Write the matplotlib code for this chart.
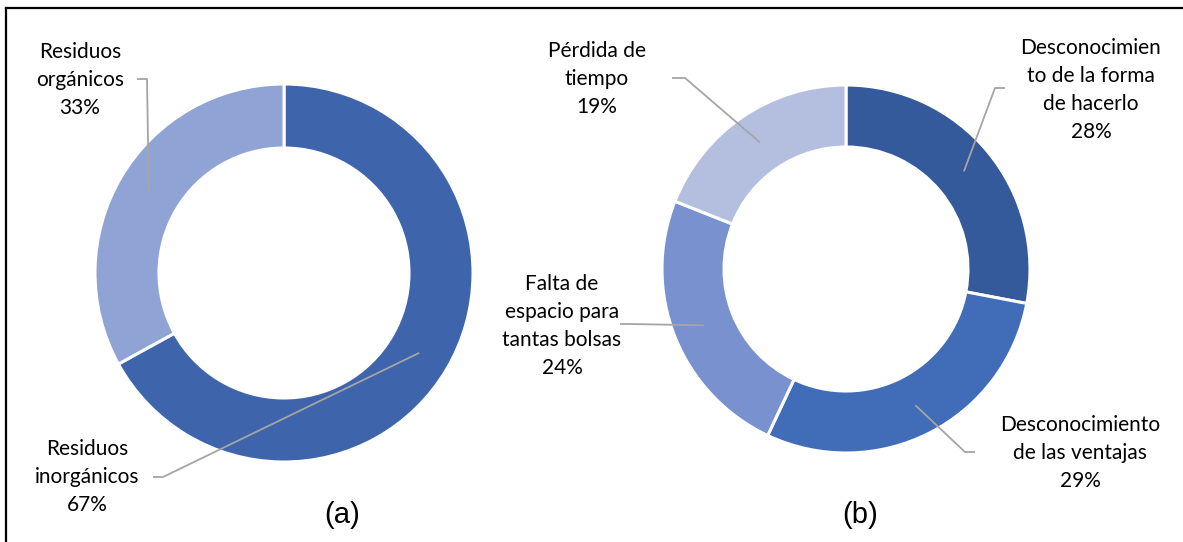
import numpy as np
import matplotlib.pyplot as plt

# (a) tipo de residuos
a_labels = ["Residuos\ninorgánicos", "Residuos\norgánicos"]
a_values = [67, 33]
a_colors = ["#3E64AC", "#8FA3D4"]

# (b) motivos
b_labels = ["Desconocimien\nto de la forma\nde hacerlo",
            "Desconocimiento\nde las ventajas",
            "Falta de\nespacio para\ntantas bolsas",
            "Pérdida de\ntiempo"]
b_values = [28, 29, 24, 19]
b_colors = ["#345A9B", "#406CB8", "#7991CE", "#B4BFE0"]

W, H = 1183, 542
fig = plt.figure(figsize=(W / 100, H / 100), dpi=100)
ax = fig.add_axes([0, 0, 1, 1])

LBL_FONT = dict(family=["Lato", "DejaVu Sans"], fontsize=15, color="black",
                ha="center", va="center", linespacing=1.5)
LEADER = dict(color="#A5A5A5", lw=1.3, solid_capstyle="butt")


def donut(values, colors, cx, cy, R, r):
    # cx, cy in image pixels (y down)
    wedges, _ = ax.pie(values, colors=colors, center=(cx, H - cy), radius=R,
                       startangle=90, counterclock=False,
                       wedgeprops=dict(width=R - r, edgecolor="white", linewidth=2.2))
    anchors = []
    for w in wedges:
        ang = np.deg2rad((w.theta1 + w.theta2) / 2)
        rm = (R + r) / 2
        anchors.append((cx + rm * np.cos(ang), cy - rm * np.sin(ang)))
    return anchors


def label(text, tx, ty, x0, x1, y0, anchor):
    ax.text(tx, H - ty, text, **LBL_FONT)
    ax.plot([x0, x1, anchor[0]], [H - y0, H - y0, H - anchor[1]], **LEADER)


# ---- (a) ----
anc_a = donut(a_values, a_colors, 284, 273, 189, 125)
# text center x, y ; leader start, elbow, y
a_pos = [(87, 477, 153, 163, 477), (80, 80, 137, 147, 79)]
for lab, v, p, anc in zip(a_labels, a_values, a_pos, anc_a):
    label(f"{lab}\n{v}%", p[0], p[1], p[2], p[3], p[4], anc)

# ---- (b) ----
anc_b = donut(b_values, b_colors, 846, 269, 184, 122)
b_pos = [(1091, 90, 1005, 995, 88),
         (1080, 453, 975, 965, 452),
         (562, 326, 620, 630, 324),
         (597, 79, 672, 685, 78)]
for lab, v, p, anc in zip(b_labels, b_values, b_pos, anc_b):
    label(f"{lab}\n{v}%", p[0], p[1], p[2], p[3], p[4], anc)

ax.text(342, H - 515, "(a)", family="Liberation Sans", fontsize=21,
        ha="center", va="center")
ax.text(860, H - 515, "(b)", family="Liberation Sans", fontsize=21,
        ha="center", va="center")

# frame (top and left edges visible)
ax.plot([6, W], [H - 8, H - 8], color="black", lw=1.6)
ax.plot([6, 6], [H - 8, 0], color="black", lw=1.6)

ax.set_xlim(0, W)
ax.set_ylim(0, H)
ax.set_aspect("auto")
ax.axis("off")

fig.savefig("out.png", dpi=100)
